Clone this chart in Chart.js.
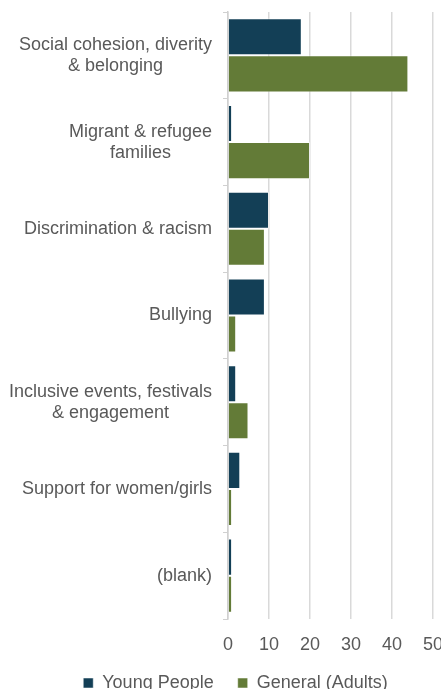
<!DOCTYPE html>
<html>
<head>
<meta charset="utf-8">
<script src="https://cdn.jsdelivr.net/npm/chart.js@4"></script>
<style>
  html, body { margin: 0; padding: 0; background: #fff; overflow: hidden; }
  #wrap { position: relative; width: 441px; height: 702px; }
</style>
</head>
<body>
<div id="wrap"><canvas id="themeChart"></canvas></div>
<script>
const categories = [
  ['Social cohesion, diverity', '& belonging'],
  ['Migrant & refugee', 'families'],
  ['Discrimination & racism'],
  ['Bullying'],
  ['Inclusive events, festivals', '& engagement'],
  ['Support for women/girls'],
  ['(blank)']
];
const youngPeople = [18, 1, 10, 9, 2, 3, 1];
const generalAdults = [44, 20, 9, 2, 5, 1, 1];
const xTicks = [0, 10, 20, 30, 40, 50];

const textGrey = '#595959';
const fontFamily = "'Liberation Sans', Arial, sans-serif";
Chart.defaults.font.family = fontFamily;
Chart.defaults.font.size = 18;
Chart.defaults.color = textGrey;

// category labels: block right-aligned to the axis, lines centred within the block
const categoryLabels = {
  id: 'categoryLabels',
  afterDraw(chart) {
    const { ctx } = chart;
    const y = chart.scales.y;
    const right = y.right - 16;
    const lineH = 21;
    ctx.save();
    ctx.font = '18px ' + fontFamily;
    ctx.fillStyle = textGrey;
    ctx.textAlign = 'center';
    ctx.textBaseline = 'middle';
    categories.forEach((lines, i) => {
      const cy = y.getPixelForValue(i);
      const w = Math.max(...lines.map(l => ctx.measureText(l).width));
      const cx = right - w / 2;
      lines.forEach((l, j) => {
        ctx.fillText(l, cx, cy + (j - (lines.length - 1) / 2) * lineH);
      });
    });
    ctx.restore();
  }
};

new Chart(document.getElementById('themeChart').getContext('2d'), {
  type: 'bar',
  data: {
    labels: categories.map(c => c.join(' ')),
    datasets: [
      {
        label: 'Young People',
        data: youngPeople,
        backgroundColor: '#133f56',
        borderColor: 'rgba(255,255,255,0.5)',
        borderWidth: 1
      },
      {
        label: 'General (Adults)',
        data: generalAdults,
        backgroundColor: '#637b37',
        borderColor: 'rgba(255,255,255,0.5)',
        borderWidth: 1
      }
    ]
  },
  plugins: [categoryLabels],
  options: {
    indexAxis: 'y',
    responsive: true,
    maintainAspectRatio: false,
    animation: false,
    categoryPercentage: 0.855,
    barPercentage: 1,
    layout: { padding: { top: 12, left: 30, right: 0, bottom: 0 } },
    plugins: {
      tooltip: { enabled: false },
      legend: {
        position: 'bottom',
        labels: {
          boxWidth: 10,
          boxHeight: 10,
          padding: 24,
          color: textGrey,
          font: { size: 18 }
        }
      }
    },
    scales: {
      x: {
        min: 0,
        max: 50,
        afterBuildTicks: axis => { axis.ticks = xTicks.map(v => ({ value: v })); },
        afterFit: scale => { scale.paddingLeft = 0; scale.paddingRight = 8; scale.height = 31; },
        grid: { color: '#d9d9d9', lineWidth: 1.5, drawTicks: false },
        border: { display: false },
        ticks: { padding: 15, color: textGrey, font: { size: 18 } }
      },
      y: {
        afterFit: scale => { scale.width = 198; },
        grid: { drawOnChartArea: false, color: '#d0d0d0', tickLength: 5, offset: true },
        border: { color: '#d0d0d0', width: 1.5 },
        ticks: { display: false }
      }
    }
  }
});
</script>
</body>
</html>
